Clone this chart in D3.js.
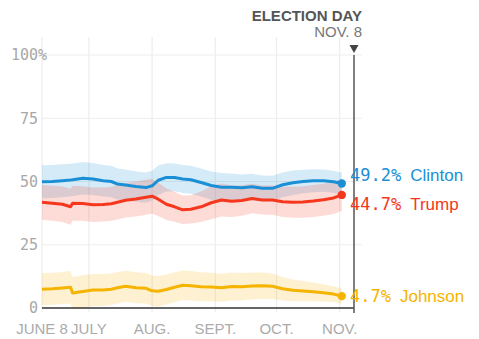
<!DOCTYPE html>
<html><head><meta charset="utf-8">
<script src="https://cdn.jsdelivr.net/npm/d3@7"></script>
<style>body{margin:0;background:#fff} svg{display:block}</style>
</head><body>
<svg id="c" width="479" height="339"></svg>
<script>
const dates = ["2016-06-08","2016-06-13","2016-06-18","2016-06-22","2016-06-23","2016-06-28","2016-07-03","2016-07-08","2016-07-12","2016-07-15","2016-07-19","2016-07-24","2016-07-29","2016-08-01","2016-08-04","2016-08-08","2016-08-12","2016-08-16","2016-08-20","2016-08-25","2016-08-30","2016-09-04","2016-09-09","2016-09-14","2016-09-19","2016-09-24","2016-09-29","2016-10-04","2016-10-09","2016-10-14","2016-10-19","2016-10-24","2016-10-29","2016-11-02"];
const clinton = [49.9,50.0,50.3,50.6,50.7,51.3,51.0,50.3,50.0,49.0,48.6,48.0,47.6,48.3,50.5,51.6,51.6,51.0,50.7,49.6,48.4,47.7,47.7,47.5,47.9,47.3,47.3,48.7,49.5,50.0,50.3,50.3,49.9,49.2];
const trump = [41.8,41.4,41.0,40.0,41.4,41.3,40.8,40.9,41.2,41.8,42.6,43.1,43.8,44.2,43.0,41.0,40.0,38.8,39.0,40.0,41.6,42.7,42.2,42.5,43.3,42.7,42.7,42.0,41.8,41.9,42.3,42.8,43.5,44.7];
const johnson = [7.4,7.6,7.9,8.2,5.9,6.5,7.1,7.1,7.4,8.0,8.6,8.0,7.8,6.8,6.6,7.3,8.2,9.0,8.8,8.4,8.3,8.0,8.5,8.4,8.7,8.8,8.6,7.6,7.0,6.7,6.4,6.0,5.5,4.7];
const clintonMargin = [6.5,6.5,6.5,6.4,6.4,6.4,6.3,6.2,6.2,6.1,6.1,6.0,6.0,5.9,5.8,5.6,5.5,5.5,5.5,5.5,5.6,5.7,5.5,5.3,5.2,5.1,5.0,4.9,4.8,4.6,4.5,4.4,4.3,4.3];
const trumpMargin = [6.9,6.9,7.0,7.1,6.9,6.8,6.8,6.7,6.7,6.8,6.8,6.9,6.9,6.9,6.6,6.2,5.9,5.6,5.6,6.0,6.5,6.5,6.2,6.0,5.8,5.7,5.8,6.0,6.1,6.2,6.3,6.3,6.3,6.3];
const johnsonMargin = [6.3,6.3,6.3,6.4,6.4,6.4,6.3,6.3,6.2,6.2,6.1,6.1,6.0,6.0,6.0,5.9,5.9,5.8,5.8,5.7,5.6,5.5,5.5,5.4,5.3,5.2,5.0,4.6,4.3,4.0,3.7,3.4,3.1,3.0];
const candidates = ["Clinton","Trump","Johnson"];
const finalLabels = ["49.2%","44.7%","4.7%"];
const colors = ["#1a8fd6","#f5371d","#f5b400"];
const yTicks = [0,25,50,75,100];
const xTickDates = ["2016-06-08","2016-07-01","2016-08-01","2016-09-01","2016-10-01","2016-11-01"];
const xTickLabels = ["JUNE 8","JULY","AUG.","SEPT.","OCT.","NOV."];
const electionDate = "2016-11-08";
const electionTitle = "ELECTION DAY";
const electionSub = "NOV. 8";

const parse = d3.timeParse("%Y-%m-%d");
const svg = d3.select("#c");
const x = d3.scaleTime().domain([parse("2016-06-08"), parse(electionDate)]).range([42, 354]);
const y = d3.scaleLinear().domain([0, 100]).range([308, 55]);
const gridRight = 362;

// gridlines
const g = svg.append("g");
g.selectAll("line.h").data(yTicks.filter(d => d > 0)).join("line")
  .attr("x1", 42).attr("x2", gridRight).attr("y1", d => y(d)).attr("y2", d => y(d))
  .attr("stroke", "#ededed").attr("stroke-width", 1.2);
g.selectAll("line.v").data(xTickDates).join("line")
  .attr("x1", d => x(parse(d))).attr("x2", d => x(parse(d)))
  .attr("y1", 37).attr("y2", 312)
  .attr("stroke", "#ededed").attr("stroke-width", 1.2);

// y labels
const yl = svg.append("g").attr("font-family", "DejaVu Sans Mono, monospace").attr("font-size", 15).attr("fill", "#a8a8a8");
yl.selectAll("text").data(yTicks).join("text")
  .attr("x", 38).attr("y", d => y(d)).attr("dy", "0.36em").attr("text-anchor", "end")
  .text(d => d);
yl.append("text").attr("x", 38).attr("y", y(100)).attr("dy", "0.36em").text("%");

// x labels
svg.append("g").attr("font-family", "Liberation Sans, Arial, sans-serif").attr("font-size", 15).attr("fill", "#ababab")
  .selectAll("text").data(xTickDates).join("text")
  .attr("x", d => x(parse(d))).attr("y", 334).attr("text-anchor", "middle")
  .text((d, i) => xTickLabels[i]);

const series = [clinton, trump, johnson];
const margins = [clintonMargin, trumpMargin, johnsonMargin];
const pts = series.map((s, k) => dates.map((d, i) => ({date: parse(d), v: s[i], m: margins[k][i]})));

// bands
const area = d3.area().x(d => x(d.date)).y0(d => y(d.v - d.m)).y1(d => y(d.v + d.m));
svg.append("g").selectAll("path").data(pts).join("path")
  .attr("d", area).attr("fill", (d, i) => colors[i]).attr("fill-opacity", 0.18);

// baseline
svg.append("line").attr("x1", 42).attr("x2", 354).attr("y1", y(0)).attr("y2", y(0))
  .attr("stroke", "#333").attr("stroke-width", 1.6);

// lines
const line = d3.line().x(d => x(d.date)).y(d => y(d.v));
svg.append("g").selectAll("path").data(pts).join("path")
  .attr("d", line).attr("fill", "none").attr("stroke", (d, i) => colors[i])
  .attr("stroke-width", 3).attr("stroke-linejoin", "round");

// election day
const ex = x(parse(electionDate));
svg.append("line").attr("x1", ex).attr("x2", ex).attr("y1", 55).attr("y2", 313)
  .attr("stroke", "#555").attr("stroke-width", 1.5);
svg.append("path").attr("d", `M${ex-4.5},45 L${ex+4.5},45 L${ex},53 Z`).attr("fill", "#444");
svg.append("text").attr("x", gridRight).attr("y", 20.5).attr("text-anchor", "end")
  .attr("font-family", "Liberation Sans, Arial, sans-serif").attr("font-size", 15).attr("font-weight", "bold")
  .attr("fill", "#555").text(electionTitle);
svg.append("text").attr("x", gridRight).attr("y", 36.5).attr("text-anchor", "end")
  .attr("font-family", "Liberation Sans, Arial, sans-serif").attr("font-size", 15)
  .attr("fill", "#777").text(electionSub);

// end dots
const last = pts.map(p => p[p.length - 1]);
svg.append("g").selectAll("circle").data(last).join("circle")
  .attr("cx", d => x(d.date)).attr("cy", d => y(d.v)).attr("r", 4.2)
  .attr("fill", (d, i) => colors[i]);

// label layout with collision avoidance
const labelY = last.map(d => y(d.v) + 6);
const minGap = 29;
for (let it = 0; it < 10; it++) {
  for (let i = 0; i < labelY.length; i++) for (let j = i + 1; j < labelY.length; j++) {
    const dy = labelY[j] - labelY[i];
    if (Math.abs(dy) < minGap) {
      const push = (minGap - Math.abs(dy)) / 2 * (dy >= 0 ? 1 : -1);
      labelY[i] -= push; labelY[j] += push;
    }
  }
}
const lab = svg.append("g").selectAll("text").data(last).join("text")
  .attr("x", 350).attr("y", (d, i) => labelY[i]).attr("fill", (d, i) => colors[i]);
lab.append("tspan").attr("font-family", "DejaVu Sans Mono, monospace").attr("font-size", 17)
  .text((d, i) => finalLabels[i]);
lab.append("tspan").attr("font-family", "Liberation Sans, Arial, sans-serif").attr("font-size", 17)
  .attr("dx", 9).text((d, i) => candidates[i]);
</script>
</body></html>
